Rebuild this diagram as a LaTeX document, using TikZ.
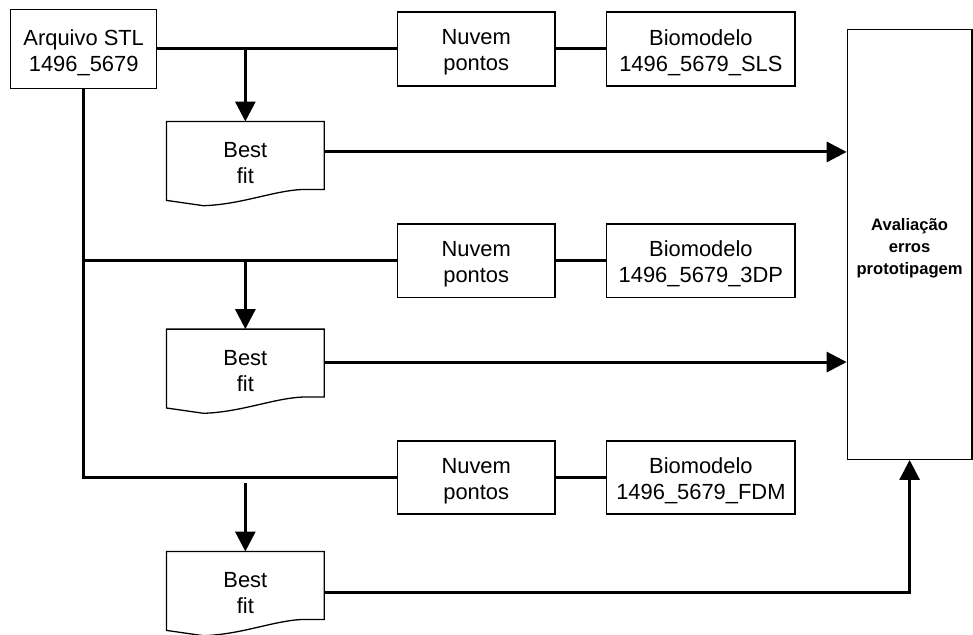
\documentclass[tikz,border=0pt]{standalone}
\usepackage{fontspec}
\setmainfont{Liberation Sans}
\usetikzlibrary{arrows.meta,calc}

\tikzset{
  box/.style={draw, line width=1.3pt, inner sep=0pt},
  boxtext/.style={inner sep=0pt, align=center, yshift=-3.5pt,
    font=\fontsize{21.9}{26}\selectfont},
  evaltext/.style={boxtext, font=\bfseries\fontsize{16.6}{22}\selectfont},
  docbox/.style={inner sep=0pt, minimum width=157.3pt, minimum height=67.5pt},
  doctext/.style={boxtext, yshift=-4.5pt},
  docline/.style={draw, line width=1.3pt, line join=miter},
  conn/.style={line width=3pt},
  flow/.style={line width=3pt, -{Triangle[length=20pt,width=20pt]}},
}

% document symbol: flat top, wavy bottom edge under the node area
\newcommand\docoutline[1]{%
  \draw[docline] (#1.north west) -- (#1.north east) -- (#1.south east)
    -- ([shift={(-20.7,0)}]#1.south east)
    .. controls ([shift={(-50,1)}]#1.south east) and ([shift={(-82,15)}]#1.south east)
    .. ([shift={(-120.7,16.3)}]#1.south east)
    -- ([shift={(0,11)}]#1.south west) -- cycle;}

\begin{document}
\begin{tikzpicture}[x=1pt, y=-1pt]
\useasboundingbox (0,0) rectangle (973,634);

% source file
\node[box, minimum width=146pt, minimum height=78.4pt,
  label={[boxtext]center:Arquivo STL\\1496\_5679}] (arq) at (83.7,49) {};

% point clouds and printed biomodels
\node[box, minimum width=157.7pt, minimum height=74pt,
  label={[boxtext]center:Nuvem\\pontos}] (nv1) at (476.2,49) {};
\node[box, minimum width=188.3pt, minimum height=74pt,
  label={[boxtext]center:Biomodelo\\1496\_5679\_SLS}] (bm1) at (700.9,49) {};
\node[box, minimum width=157.7pt, minimum height=73.3pt,
  label={[boxtext]center:Nuvem\\pontos}] (nv2) at (476.2,260.7) {};
\node[box, minimum width=188.3pt, minimum height=73.3pt,
  label={[boxtext]center:Biomodelo\\1496\_5679\_3DP}] (bm2) at (700.9,260.7) {};
\node[box, minimum width=157.7pt, minimum height=73pt,
  label={[boxtext]center:Nuvem\\pontos}] (nv3) at (476.2,477.5) {};
\node[box, minimum width=188.3pt, minimum height=73pt,
  label={[boxtext]center:Biomodelo\\1496\_5679\_FDM}] (bm3) at (700.9,477.5) {};

% best-fit documents
\node[docbox, label={[doctext]center:Best\\fit}] (bf1) at (245.35,155.45) {};
\node[docbox, label={[doctext]center:Best\\fit}] (bf2) at (245.35,363.05) {};
\node[docbox, label={[doctext]center:Best\\fit}] (bf3) at (245.35,585.45) {};
\docoutline{bf1}
\docoutline{bf2}
\docoutline{bf3}

% evaluation
\node[box, minimum width=124.6pt, minimum height=430pt,
  label={[evaltext]center:Avaliação\\erros\\prototipagem}] (eval) at (909.6,244.3) {};

% connectors
\draw[conn] (arq.east) -- (nv1.west);
\draw[conn] (nv1) -- (bm1);
\draw[conn] (nv2) -- (bm2);
\draw[conn] (nv3) -- (bm3);
\draw[conn, line join=miter] (arq.south) -- (arq.south |- nv3.west) -- (nv3.west);
\draw[conn] (arq.south |- nv2.west) -- (nv2.west);

\draw[flow] (bf1.north |- arq.east) -- (bf1.north);
\draw[flow] (bf2.north |- nv2.west) -- (bf2.north);
\draw[flow] ($(bf3.north |- nv3.west)+(0,5.5)$) -- (bf3.north);

\draw[flow] ([yshift=3.5pt]bf1.east) -- ([yshift=3.5pt]bf1.east -| eval.west);
\draw[flow] ([yshift=1pt]bf2.east) -- ([yshift=1pt]bf2.east -| eval.west);
\draw[flow, line join=miter] ([yshift=-7.5pt]bf3.east) -| (eval.south);
\end{tikzpicture}
\end{document}
